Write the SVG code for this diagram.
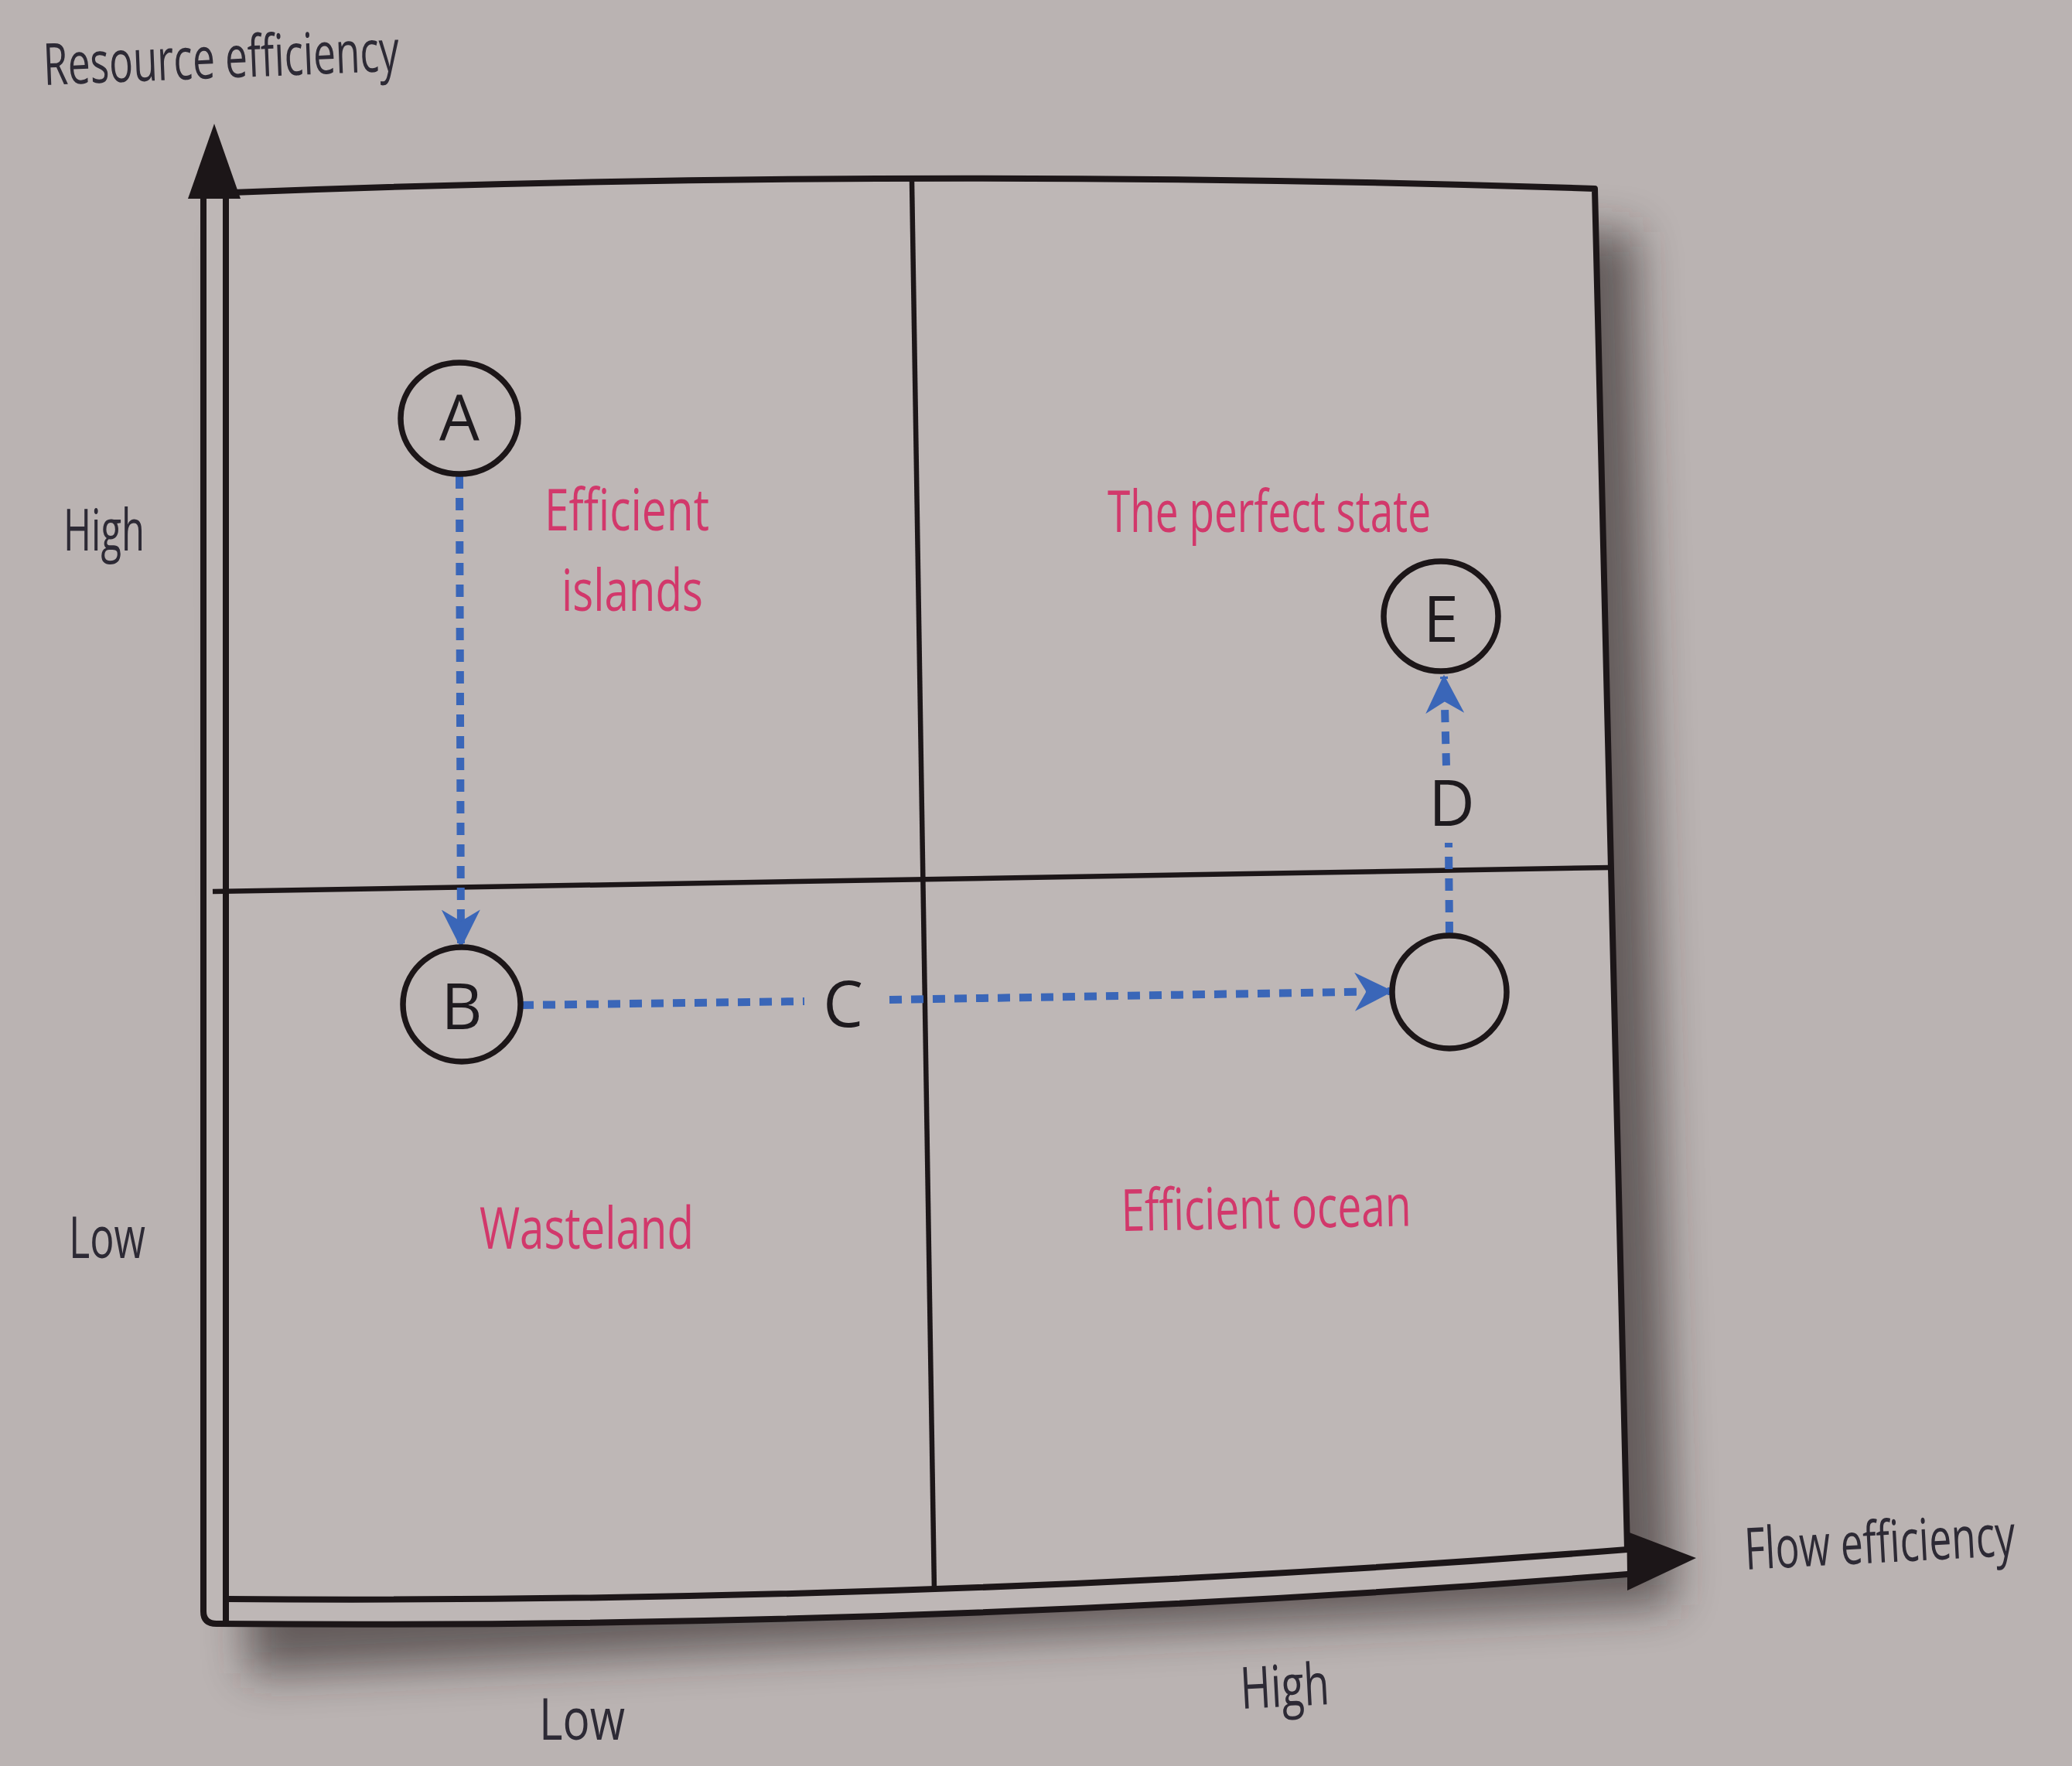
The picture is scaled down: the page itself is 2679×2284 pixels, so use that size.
<svg xmlns="http://www.w3.org/2000/svg" width="2679" height="2284" viewBox="0 0 2679 2284">
  <style>
    .ax { font-family: "Open Sans", "Noto Sans", "Liberation Sans", sans-serif; font-size: 75px; fill: #2d2a35; }
    .quad { font-family: "Open Sans", "Noto Sans", "Liberation Sans", sans-serif; font-size: 75px; fill: #d2386b; }
    .let { font-family: "Open Sans", "Noto Sans", "Liberation Sans", sans-serif; font-size: 82px; fill: #1e1a1e; text-anchor: middle; }
    .frame { fill: none; stroke: #1c1618; stroke-width: 8; stroke-linecap: round; stroke-linejoin: round; }
    .div { fill: none; stroke: #1c1618; stroke-width: 6.5; }
    .node { fill: none; stroke: #1c1618; stroke-width: 7.5; }
    .edge { fill: none; stroke: #3a66b8; stroke-width: 10; stroke-dasharray: 16 12; }
    .head { fill: #1c1618; }
  </style>
  <defs>
    <marker id="blueArrow" viewBox="0 0 10 10" refX="9.5" refY="5" markerUnits="userSpaceOnUse" markerWidth="50" markerHeight="50" orient="auto">
      <path d="M0,0 L10,5 L0,10 L3,5 z" fill="#3a66b8"/>
    </marker>
    <filter id="blur" x="-10%" y="-10%" width="120%" height="120%">
      <feGaussianBlur stdDeviation="28"/>
    </filter>
  </defs>

  <rect x="0" y="0" width="2679" height="2284" fill="#bab3b2"/>

  <!-- drop shadow of the chart panel -->
  <polygon points="310,300 2115,300 2165,2075 320,2165" fill="#2a2220" opacity="0.6" filter="url(#blur)"/>
  <!-- panel surface -->
  <path d="M263,248 Q1180,215 2062,244 L2104,2036 Q1200,2110 280,2100 L263,2100 Z" fill="#beb7b6"/>

  <g id="axes">
    <path class="frame" d="M263,256 L263,2084 Q263,2100 280,2100 Q1200,2108 2104,2036"/>
    <path class="frame" d="M292,256 L292,2100"/>
    <path class="frame" d="M292,2068 Q1200,2075 2104,2004"/>
    <path class="frame" d="M300,249 Q1180,215 2062,244 L2104,2004"/>
    <polygon class="head" points="277,160 311,257 243,257"/>
    <polygon class="head" points="2193,2015 2104,1981 2104,2057"/>
  </g>

  <g id="dividers">
    <path class="div" d="M1179,234 L1208,2058"/>
    <path class="div" d="M275,1153 L2083,1122"/>
  </g>

  <g id="connectors">
    <path id="edge-A-B" class="edge" d="M594,616 L596,1224" marker-end="url(#blueArrow)"/>
    <path id="edge-C" class="edge" d="M674,1300 L1040,1295 M1150,1293 L1799,1282" marker-end="url(#blueArrow)"/>
    <path id="edge-D" class="edge" d="M1874,1208 L1873,1090 M1870,990 L1867,875" marker-end="url(#blueArrow)"/>
    <text class="let" x="1090" y="1328">C</text>
    <text class="let" x="1877" y="1068">D</text>
  </g>

  <g id="node-A">
    <ellipse class="node" cx="594" cy="541" rx="76" ry="72"/>
    <text class="let" x="594" y="570">A</text>
  </g>
  <g id="node-B">
    <ellipse class="node" cx="597" cy="1299" rx="76" ry="74"/>
    <text class="let" x="597" y="1331">B</text>
  </g>
  <g id="node-empty">
    <ellipse class="node" cx="1874" cy="1283" rx="74" ry="73"/>
  </g>
  <g id="node-E">
    <ellipse class="node" cx="1863" cy="797" rx="74" ry="71"/>
    <text class="let" x="1863" y="830">E</text>
  </g>

  <g id="axis-labels">
    <text class="ax" x="57" y="110" textLength="460" lengthAdjust="spacingAndGlyphs" transform="rotate(-2.3 57 110)">Resource efficiency</text>
    <text class="ax" x="82" y="712" textLength="105" lengthAdjust="spacingAndGlyphs">High</text>
    <text class="ax" x="89" y="1627" textLength="99" lengthAdjust="spacingAndGlyphs">Low</text>
    <text class="ax" x="697" y="2250" textLength="111" lengthAdjust="spacingAndGlyphs">Low</text>
    <text class="ax" x="1605" y="2210" textLength="115" lengthAdjust="spacingAndGlyphs" transform="rotate(-3 1605 2210)">High</text>
    <text class="ax" x="2257" y="2030" textLength="350" lengthAdjust="spacingAndGlyphs" transform="rotate(-3 2257 2030)">Flow efficiency</text>
  </g>

  <g id="quadrant-labels">
    <text class="quad" x="704" y="686" textLength="213" lengthAdjust="spacingAndGlyphs">Efficient</text>
    <text class="quad" x="726" y="790" textLength="183" lengthAdjust="spacingAndGlyphs">islands</text>
    <text class="quad" x="1432" y="688" textLength="418" lengthAdjust="spacingAndGlyphs">The perfect state</text>
    <text class="quad" x="620" y="1615" textLength="277" lengthAdjust="spacingAndGlyphs">Wasteland</text>
    <text class="quad" x="1450" y="1592" textLength="375" lengthAdjust="spacingAndGlyphs" transform="rotate(-1 1450 1592)">Efficient ocean</text>
  </g>
</svg>
